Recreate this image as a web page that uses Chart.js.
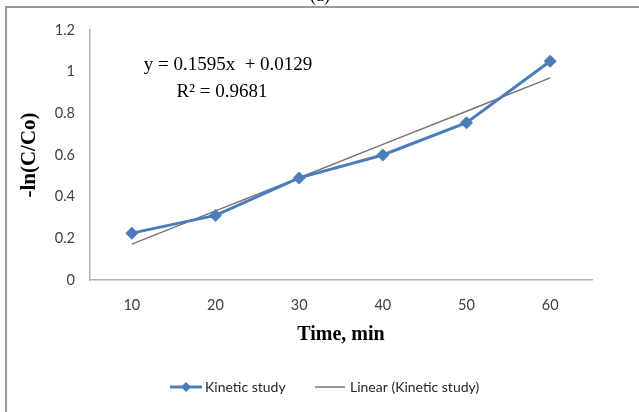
<!DOCTYPE html>
<html>
<head>
<meta charset="utf-8">
<script src="https://cdn.jsdelivr.net/npm/chart.js@4/dist/chart.umd.min.js"></script>
<style>
  html, body { margin: 0; padding: 0; background: #ffffff; }
  #wrap { width: 639px; height: 412px; position: relative; }
</style>
</head>
<body>
<div id="wrap"><canvas id="c" width="639" height="412"></canvas></div>
<script>
// ---- data ----
const timeLabels = ['10', '20', '30', '40', '50', '60'];
const kineticValues = [0.225, 0.31, 0.49, 0.60, 0.755, 1.05];
// Linear trendline values (y = 0.1595x + 0.0129 as printed on the chart)
const linearValues = [0.172, 0.332, 0.491, 0.651, 0.810, 0.970];
const seriesNames = ['Kinetic study', 'Linear (Kinetic study)'];
const equationLines = ['y = 0.1595x  + 0.0129', 'R\u00B2 = 0.9681'];
const xTitle = 'Time, min';
const yTitle = '-ln(C/Co)';
const panelLabel = '(a)';

const BLUE = '#4a7ebb';
const GRAY_TREND = '#767676';
const AXIS = '#b4b4b4';
const TICK = '#404040';
const SANS = 'Lato, "Open Sans", sans-serif';
const SERIF = '"Liberation Serif", "DejaVu Serif", serif';

const decor = {
  id: 'decor',
  beforeDraw(chart) {
    const ctx = chart.ctx;
    ctx.save();
    ctx.fillStyle = '#ffffff';
    ctx.fillRect(0, 0, chart.width, chart.height);
    ctx.strokeStyle = '#9a9a9a';
    ctx.lineWidth = 2;
    ctx.beginPath();
    ctx.moveTo(639, 7);
    ctx.lineTo(6, 7);
    ctx.lineTo(6, 412);
    ctx.stroke();
    ctx.restore();
  },
  afterDraw(chart) {
    const ctx = chart.ctx;
    const a = chart.chartArea;
    ctx.save();
    // panel label (cut off at top)
    ctx.fillStyle = '#000';
    ctx.font = '18px ' + SERIF;
    ctx.textAlign = 'center';
    ctx.textBaseline = 'alphabetic';
    ctx.fillText(panelLabel, 320, 1);

    // equation
    ctx.font = '19px ' + SERIF;
    ctx.textBaseline = 'middle';
    ctx.fillText(equationLines[0], 228, 65);
    ctx.fillText(equationLines[1], 222, 92);

    // axis titles
    ctx.font = 'bold 20px ' + SERIF;
    ctx.fillText(xTitle, (a.left + a.right) / 2, 335);
    ctx.save();
    ctx.translate(30, (a.top + a.bottom) / 2);
    ctx.rotate(-Math.PI / 2);
    ctx.font = 'bold 21px ' + SERIF;
    ctx.fillText(yTitle, 0, 0);
    ctx.restore();

    // legend
    const ly = 387;
    ctx.strokeStyle = BLUE;
    ctx.lineWidth = 3;
    ctx.beginPath(); ctx.moveTo(170, ly); ctx.lineTo(202, ly); ctx.stroke();
    ctx.fillStyle = BLUE;
    ctx.beginPath();
    ctx.moveTo(186, ly - 5); ctx.lineTo(191, ly); ctx.lineTo(186, ly + 5); ctx.lineTo(181, ly);
    ctx.closePath(); ctx.fill();
    ctx.strokeStyle = GRAY_TREND;
    ctx.lineWidth = 1.5;
    ctx.beginPath(); ctx.moveTo(315, ly); ctx.lineTo(345, ly); ctx.stroke();
    ctx.fillStyle = '#262626';
    ctx.font = '14px ' + SANS;
    ctx.textAlign = 'left';
    ctx.fillText(seriesNames[0], 205, ly);
    ctx.fillText(seriesNames[1], 350, ly);
    ctx.restore();
  }
};

new Chart(document.getElementById('c'), {
  type: 'line',
  data: {
    labels: timeLabels,
    datasets: [
      {
        label: seriesNames[1],
        data: linearValues,
        borderColor: GRAY_TREND,
        borderWidth: 1.5,
        pointRadius: 0,
        fill: false,
        tension: 0,
        order: 2
      },
      {
        label: seriesNames[0],
        data: kineticValues,
        borderColor: BLUE,
        backgroundColor: BLUE,
        borderWidth: 3,
        pointStyle: 'rectRot',
        pointRadius: 6.5,
        pointBorderWidth: 0,
        pointBackgroundColor: BLUE,
        fill: false,
        tension: 0,
        order: 1
      }
    ]
  },
  options: {
    responsive: false,
    animation: false,
    events: [],
    layout: { padding: { left: 0, top: 30, right: 47, bottom: 0 } },
    plugins: { legend: { display: false }, tooltip: { enabled: false }, title: { display: false } },
    scales: {
      x: {
        type: 'category',
        offset: true,
        grid: { display: false, drawTicks: false },
        border: { display: true, color: AXIS, width: 1.5 },
        ticks: { color: TICK, font: { family: SANS, size: 14.5 }, padding: 17, maxRotation: 0 },
        afterFit(s) { s.height = 132; }
      },
      y: {
        min: 0,
        max: 1.2,
        grid: { display: false, drawTicks: false },
        border: { display: true, color: AXIS, width: 1.5 },
        ticks: {
          stepSize: 0.2, color: TICK, font: { family: SANS, size: 14.5 }, padding: 15,
          callback: (v) => String(Number(Number(v).toFixed(1)))
        },
        afterFit(s) { s.width = 90; }
      }
    }
  },
  plugins: [decor]
});
</script>
</body>
</html>
